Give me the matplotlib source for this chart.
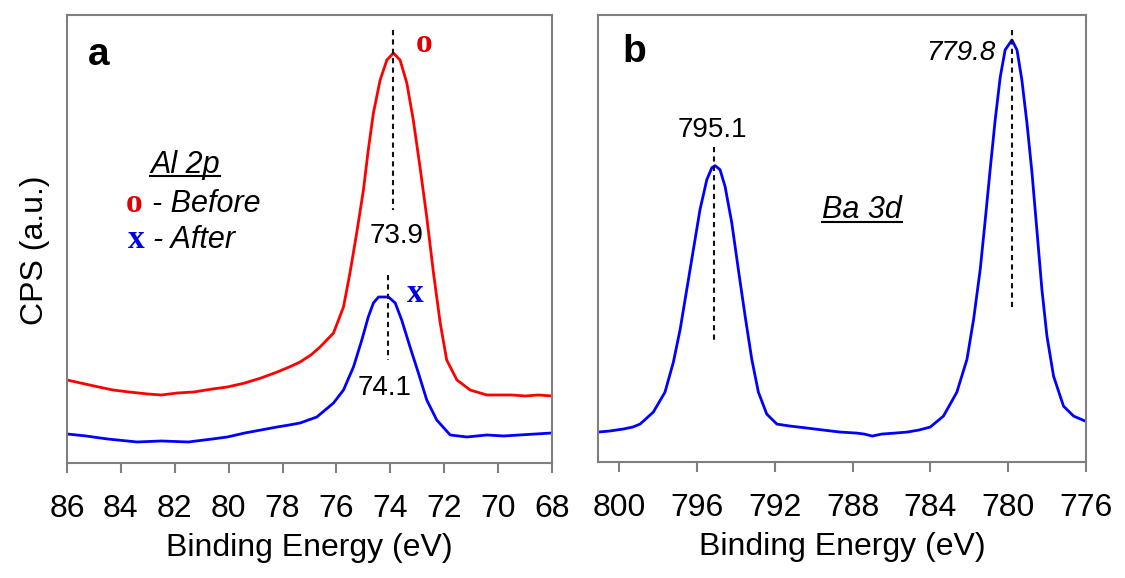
import matplotlib.pyplot as plt

plt.rcParams['font.family'] = ['Liberation Sans', 'DejaVu Sans']

# Al 2p spectra (binding energy in eV, intensity in arbitrary units)
al_energy_before = [86.0, 85.5, 85.0, 84.3, 83.7, 83.0, 82.5, 81.9, 81.3, 80.6, 80.05, 79.4,
                    78.8, 78.2, 77.75, 77.35, 76.95, 76.61, 76.11, 75.74, 75.5, 75.25, 75.0,
                    74.82, 74.63, 74.38, 74.13, 73.89, 73.64, 73.39, 73.15, 72.9, 72.65,
                    72.4, 72.15, 71.91, 71.53, 71.04, 70.42, 70.0, 69.5, 69.0, 68.5, 68.0]
al_cps_before = [83, 80, 77, 73, 71, 69, 68, 70, 71, 74, 76, 80,
                 85, 91, 96, 101, 108, 116, 130, 156, 190, 230, 273,
                 313, 350, 383, 403, 410, 403, 380, 343, 296, 246,
                 190, 140, 103, 83, 73, 68, 68, 68, 67, 68, 67]

al_energy_after = [86.0, 85.3, 84.5, 83.4, 82.5, 81.5, 80.6, 80.05, 79.4, 78.8, 78.2, 77.75,
                   77.35, 76.73, 76.11, 75.74, 75.37, 75.06, 74.82, 74.63, 74.44, 74.07,
                   73.82, 73.58, 73.27, 72.96, 72.65, 72.28, 71.78, 71.16, 70.42, 69.8,
                   69.2, 68.6, 68.0]
al_cps_after = [29, 27, 24, 21, 22, 21, 24, 26, 30, 33, 36, 38,
                40, 46, 60, 73, 96, 123, 146, 160, 166, 166,
                160, 143, 116, 90, 63, 43, 28, 26, 28, 27,
                28, 29, 30]

# Ba 3d spectrum
ba_energy = [801.08, 800.5, 799.8, 799.3, 798.92, 798.24, 797.64, 797.21, 796.86, 796.52,
             796.18, 795.84, 795.49, 795.23, 795.06, 794.81, 794.55, 794.21, 793.87, 793.52,
             793.18, 792.84, 792.41, 791.89, 791.21, 790.33, 789.5, 788.64, 787.8, 787.4,
             786.99, 786.5, 785.8, 785.19, 784.6, 784.01, 783.33, 782.64, 782.12, 781.78,
             781.44, 781.18, 780.93, 780.67, 780.41, 780.16, 779.81, 779.55, 779.3, 779.04,
             778.78, 778.53, 778.27, 778.01, 777.67, 777.16, 776.64, 776.04]
ba_cps = [30, 31, 33, 35, 38, 50, 70, 100, 133, 173,
          213, 253, 283, 295, 297, 293, 276, 240, 193, 146,
          103, 70, 48, 38, 36, 34, 32, 30, 29, 28,
          26, 28, 29, 30, 32, 35, 46, 70, 103, 143,
          193, 243, 293, 343, 386, 413, 423, 413, 383, 340,
          290, 233, 173, 126, 86, 56, 46, 41]

al_peaks = [73.9, 74.1]
ba_peaks = [795.1, 779.8]

al_ticks = [86, 84, 82, 80, 78, 76, 74, 72, 70, 68]
ba_ticks = [800, 796, 792, 788, 784, 780, 776]

SPINE = '#7f7f7f'
DASH = (0, (2.5, 2))

fig = plt.figure(figsize=(11.25, 5.78), dpi=100)
ax1 = fig.add_axes([0.0596, 0.199, 0.4311, 0.775])
ax2 = fig.add_axes([0.5316, 0.2007, 0.4338, 0.7733])


def style_axis(ax, xlim, ticks):
    ax.set_xlim(*xlim)
    ax.set_ylim(0, 448)
    ax.set_xticks(ticks)
    ax.set_yticks([])
    for s in ax.spines.values():
        s.set_color(SPINE)
        s.set_linewidth(1.5)
    ax.tick_params(axis='x', direction='out', length=7, width=1.5, color=SPINE,
                   labelsize=23, pad=15)
    ax.set_xlabel('Binding Energy (eV)', fontsize=23, labelpad=7)


def underline(ax, txt, y):
    fig.canvas.draw()
    bb = txt.get_window_extent().transformed(ax.transData.inverted())
    ax.plot([bb.x0, bb.x1], [y, y], color='black', lw=1.5, clip_on=False)


# panel a
ax1.plot(al_energy_before, al_cps_before, color='#ff0000', lw=2)
ax1.plot(al_energy_after, al_cps_after, color='#0000ff', lw=2)
ax1.plot([al_peaks[0]] * 2, [433, 253], color='#111111', ls=DASH, lw=1.5)
ax1.plot([al_peaks[1]] * 2, [188, 103], color='#111111', ls=DASH, lw=1.5)
style_axis(ax1, (86, 68), al_ticks)
ax1.set_ylabel('CPS (a.u.)', fontsize=23)
ax1.yaxis.set_label_coords(-0.036, 0.475)

ax1.text(85.22, 398, 'a', fontsize=28, fontweight='bold', ha='left', va='baseline')
t_al = ax1.text(81.62, 290, 'Al 2p', fontsize=22, style='italic', ha='center', va='baseline')
ax1.text(83.51, 251, 'o', fontsize=24, fontweight='bold', color='#e00000',
         family='Liberation Serif', ha='center', va='baseline')
ax1.text(82.84, 251, '- Before', fontsize=22, style='italic', ha='left', va='baseline')
ax1.text(83.45, 215, 'x', fontsize=24, fontweight='bold', color='#0000e0',
         family='Liberation Serif', ha='center', va='baseline')
ax1.text(82.8, 215, '- After', fontsize=22, style='italic', ha='left', va='baseline')
ax1.text(73.75, 220, f'{al_peaks[0]}', fontsize=20, ha='center', va='baseline')
ax1.text(74.2, 68, f'{al_peaks[1]}', fontsize=20, ha='center', va='baseline')
ax1.text(72.75, 411, 'o', fontsize=24, fontweight='bold', color='#e00000',
         family='Liberation Serif', ha='center', va='baseline')
ax1.text(73.08, 161, 'x', fontsize=24, fontweight='bold', color='#0000e0',
         family='Liberation Serif', ha='center', va='baseline')

# panel b
ax2.plot(ba_energy, ba_cps, color='#0000ff', lw=2)
ax2.plot([ba_peaks[0]] * 2, [316, 121], color='#111111', ls=DASH, lw=1.5)
ax2.plot([ba_peaks[1]] * 2, [433, 151], color='#111111', ls=DASH, lw=1.5)
style_axis(ax2, (801.08, 776), ba_ticks)

ax2.text(799.85, 401, 'b', fontsize=28, fontweight='bold', ha='left', va='baseline')
ax2.text(795.22, 326, f'{ba_peaks[0]}', fontsize=20, ha='center', va='baseline')
ax2.text(780.67, 403, f'{ba_peaks[1]}', fontsize=20, style='italic', ha='right', va='baseline')
t_ba = ax2.text(787.5, 245, 'Ba 3d', fontsize=22, style='italic', ha='center', va='baseline')

underline(ax1, t_al, 287)
underline(ax2, t_ba, 241)

fig.savefig('out.png', dpi=100)
